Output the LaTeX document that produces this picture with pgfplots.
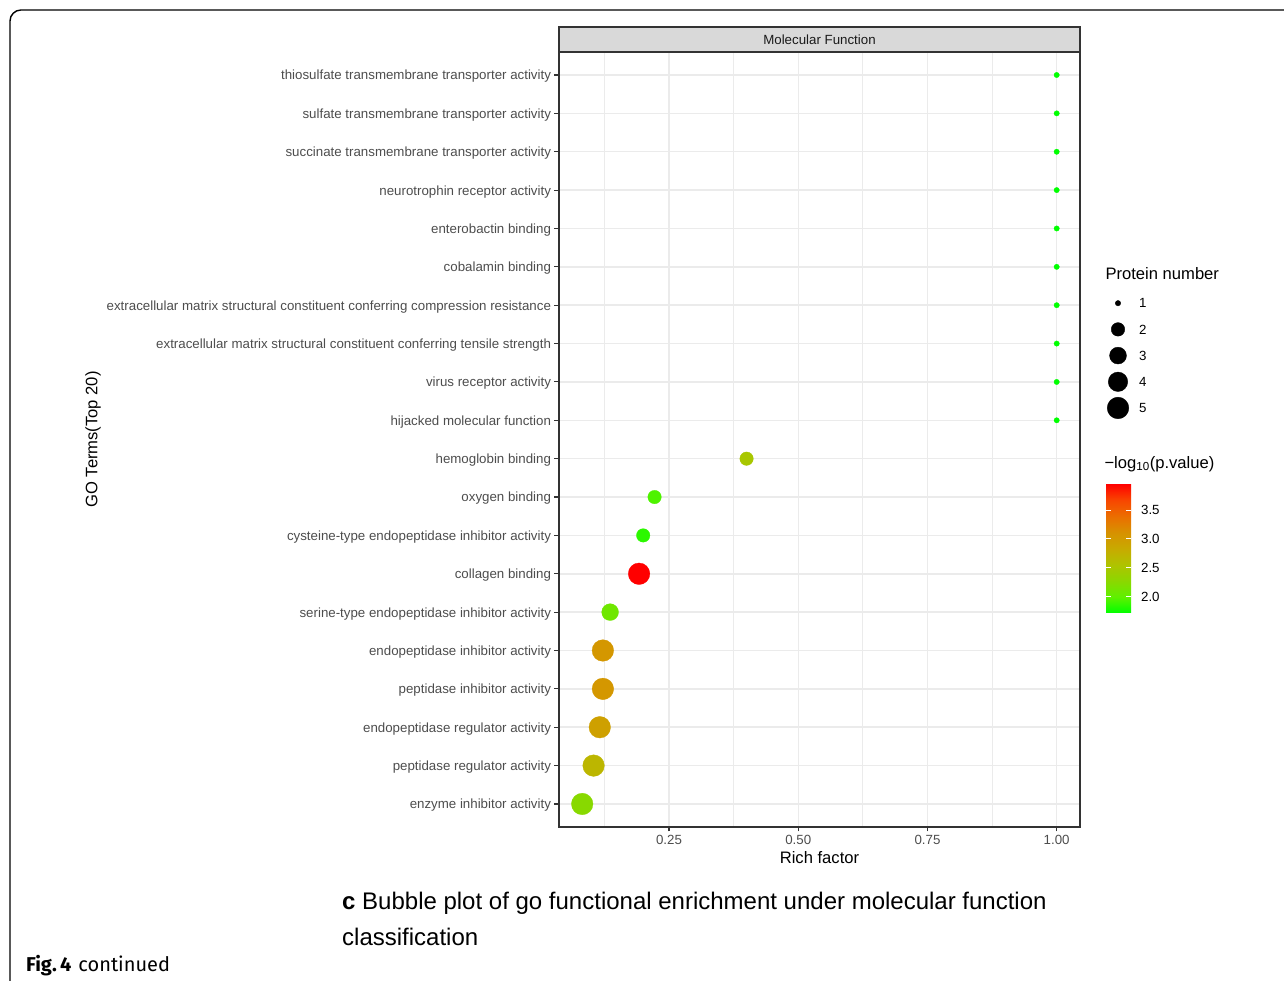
\documentclass[border=0pt]{standalone}
\usepackage{pgfplots}
\pgfplotsset{compat=1.18}
\usepackage{pgfplotstable}
\usepackage{fontspec}
\setmainfont{Liberation Sans}
\newfontfamily\figfont{Fira Sans}
\definecolor{gray10}{HTML}{1A1A1A}
\definecolor{gray20}{HTML}{333333}
\definecolor{gray30}{HTML}{4D4D4D}
\definecolor{gray85}{HTML}{D9D9D9}
\definecolor{gray92}{HTML}{EBEBEB}
\newcommand{\tk}{\fontsize{13.3}{15}\selectfont}
\newcommand{\ti}{\fontsize{16.6}{19}\selectfont}
\pgfplotsset{/pgf/number format/assume math mode=true}

% y = row (0 = bottom), x = rich factor, n = protein number, p = -log10(p.value)
\pgfplotstableread{
y x n p
19 1.000 1 1.72
18 1.000 1 1.72
17 1.000 1 1.72
16 1.000 1 1.72
15 1.000 1 1.72
14 1.000 1 1.72
13 1.000 1 1.72
12 1.000 1 1.72
11 1.000 1 1.72
10 1.000 1 1.72
9 0.400 2 2.50
8 0.222 2 1.95
7 0.200 2 1.85
6 0.192 5 3.95
5 0.136 3 2.10
4 0.122 5 3.05
3 0.122 5 3.05
2 0.116 5 2.95
1 0.104 5 2.70
0 0.082 5 2.25
}\gotable

\pgfplotstableread{
x y n
0 1 1
0 2 2
0 3 3
0 4 4
0 5 5
}\sizetable

\begin{document}
\begin{tikzpicture}[x=1pt,y=1pt]
\useasboundingbox (-559,-154) rectangle (725,827);
\draw[line width=1.4pt, rounded corners=11pt] (-549,-220) -- (-549,817) -- (800,817);
\begin{axis}[
  at={(0,0)}, anchor=south west, scale only axis,
  width=521pt, height=775pt,
  xmin=0.0371, xmax=1.0451, ymin=-0.6, ymax=19.6,
  xtick={0.25,0.5,0.75,1}, xticklabels={0.25,0.50,0.75,1.00},
  minor xtick={0.125,0.375,0.625,0.875},
  ytick={0,...,19},
  yticklabels={enzyme inhibitor activity,peptidase regulator activity,endopeptidase regulator activity,peptidase inhibitor activity,endopeptidase inhibitor activity,serine-type endopeptidase inhibitor activity,collagen binding,cysteine-type endopeptidase inhibitor activity,oxygen binding,hemoglobin binding,hijacked molecular function,virus receptor activity,extracellular matrix structural constituent conferring tensile strength,extracellular matrix structural constituent conferring compression resistance,cobalamin binding,enterobactin binding,neurotrophin receptor activity,succinate transmembrane transporter activity,sulfate transmembrane transporter activity,thiosulfate transmembrane transporter activity},
  grid=both,
  major grid style={gray92, line width=1.5pt},
  minor grid style={gray92, line width=0.8pt},
  tick pos=left, tick align=outside,
  major tick length=4.5pt, minor tick length=0pt,
  tick style={gray20, line width=1.1pt},
  axis line style={gray20, line width=1.1pt},
  ticklabel style={font=\tk, text=gray30},
  yticklabel style={yshift=-1.5pt},
  xlabel={Rich factor}, ylabel={GO Terms(Top 20)},
  every axis x label/.style={at={(axis description cs:0.5,0)}, anchor=center, yshift=-31pt, font=\ti},
  every axis y label/.style={at={(axis description cs:-0.8944,0.5)}, anchor=center, rotate=90, font=\ti},
  clip=false,
  point meta min=1.72, point meta max=3.95,
  colormap={ggrg}{rgb255(0)=(0,255,0) rgb255(1)=(95,240,0) rgb255(2)=(140,215,0) rgb255(3)=(175,195,0) rgb255(4)=(200,170,0) rgb255(5)=(215,145,0) rgb255(6)=(235,110,0) rgb255(7)=(248,70,0) rgb255(8)=(255,0,0)},
  colorbar,
  colorbar/width=25pt,
  colorbar shift/.style={},
  colorbar style={
    at={(547pt,343pt)}, anchor=north west,
    scale only axis, width=25pt, height=129pt,
    ytick={2,2.5,3,3.5}, yticklabels={2.0,2.5,3.0,3.5},
    axis line style={draw=none},
    major tick length=5pt, tick align=inside,
    tick style={white, line width=1pt},
    ytick pos=both, yticklabel pos=right,
    yticklabel style={font=\tk, text=black, xshift=6.6pt},
    axis on top,
  },
]
\addplot[scatter, only marks, mark=*, line width=0.3pt,
  point meta=explicit,
  visualization depends on={2.7+8.1*sqrt((\thisrow{n}-1)/4) \as \rad},
  scatter/use mapped color={draw=mapped color, fill=mapped color},
  scatter/@pre marker code/.append style={/tikz/mark size=\rad pt}]
  table[x=x, y=y, meta=p] {\gotable};
\end{axis}
% facet strip
\draw[gray20, line width=1.1pt, fill=gray85] (0,775) rectangle (521,800);
\node[font=\tk, text=gray10] at (260.5,787.5) {Molecular Function};
% size legend
\node[anchor=west, font=\ti] at (543,553) {Protein number};
\begin{axis}[
  at={(547pt,405.9pt)}, anchor=south west, scale only axis,
  width=24pt, height=131pt,
  xmin=-1, xmax=1, ymin=0.5, ymax=5.5, y dir=reverse,
  axis line style={draw=none}, xtick=\empty,
  ytick={1,...,5}, yticklabel pos=right, major tick length=0pt,
  yticklabel style={font=\tk, text=black, xshift=5.6pt},
  clip=false,
]
\addplot[scatter, only marks, mark=*, black,
  point meta=explicit,
  visualization depends on={2.7+8.1*sqrt((\thisrow{n}-1)/4) \as \rad},
  scatter/use mapped color={draw=black, fill=black},
  scatter/@pre marker code/.append style={/tikz/mark size=\rad pt}]
  table[x=x, y=y, meta=n] {\sizetable};
\end{axis}
\node[anchor=west, font=\ti] at (542,363) {−log\textsubscript{10}(p.value)};
% caption
\node[anchor=base west, inner sep=0pt, font=\fontsize{24}{28}\selectfont] at (-217,-83) {\textbf{c} Bubble plot of go functional enrichment under molecular function};
\node[anchor=base west, inner sep=0pt, font=\fontsize{24}{28}\selectfont] at (-217,-119) {classification};
\node[anchor=base west, inner sep=0pt, font=\figfont\fontsize{20}{24}\selectfont] at (-533,-145) {\textbf{Fig.\,4}\hspace{7pt}continued};
\end{tikzpicture}
\end{document}
